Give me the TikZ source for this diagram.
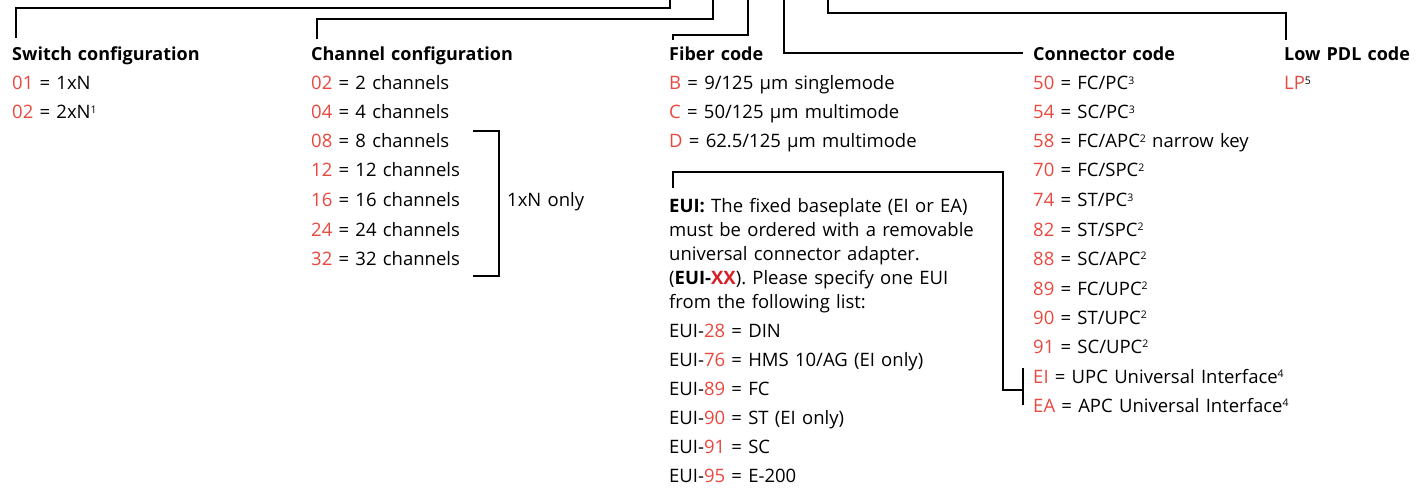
\documentclass[tikz,border=0pt]{standalone}
\usepackage{fontspec}
\setmainfont{Open Sans}[WordSpace=1.3]
\definecolor{codered}{RGB}{232,72,62}
\definecolor{darkred}{RGB}{214,32,38}
\newcommand\R[1]{\textcolor{codered}{#1}}
\newcommand\Sup[1]{\raisebox{5.5pt}{\fontsize{10.5}{10.5}\selectfont #1}}
\tikzset{
  item/.style={anchor=base west, inner sep=0pt, font=\fontsize{18.5}{20}\selectfont},
  title/.style={anchor=base west, inner sep=0pt, font=\fontsize{18}{20}\selectfont\bfseries},
  wire/.style={line width=1.6pt, line join=miter},
}
\begin{document}
\begin{tikzpicture}[x=1pt,y=-1pt]
\useasboundingbox (0,0) rectangle (1426,489);
% Switch configuration
\node[title] (sw) at (12,61) {Switch configuration};
\node[item] (s1) at (12,90) {\R{01} = 1xN};
\node[item] (s2) at (12,119) {\R{02} = 2xN\Sup{1}};
% Channel configuration
\node[title] (ch) at (311,61) {Channel configuration};
\node[item] (c1) at (311,90) {\R{02} = 2 channels};
\node[item] (c2) at (311,119) {\R{04} = 4 channels};
\node[item] (c3) at (311,148) {\R{08} = 8 channels};
\node[item] (c4) at (311,177) {\R{12} = 12 channels};
\node[item] (c5) at (311,207) {\R{16} = 16 channels};
\node[item] (c6) at (311,236) {\R{24} = 24 channels};
\node[item] (c7) at (311,265) {\R{32} = 32 channels};
\node[item] (only) at (507,207) {1xN only};
% Fiber code
\node[title] (fc) at (669,61) {Fiber code};
\node[item] (f1) at (669,90) {\R{B} = 9/125 µm singlemode};
\node[item] (f2) at (669,119) {\R{C} = 50/125 µm multimode};
\node[item] (f3) at (669,148) {\R{D} = 62.5/125 µm multimode};
% EUI
\node[item] (e1) at (669,212) {\textbf{EUI:} The fixed baseplate (EI or EA)};
\node[item] (e2) at (669,236) {must be ordered with a removable};
\node[item] (e3) at (669,260) {universal connector adapter.};
\node[item] (e4) at (669,284) {(\textbf{EUI-\textcolor{darkred}{XX}}). Please specify one EUI};
\node[item] (e5) at (669,308) {from the following list:};
\node[item] (u1) at (669,337) {EUI-\R{28} = DIN};
\node[item] (u2) at (669,366) {EUI-\R{76} = HMS 10/AG (EI only)};
\node[item] (u3) at (669,395) {EUI-\R{89} = FC};
\node[item] (u4) at (669,424) {EUI-\R{90} = ST (EI only)};
\node[item] (u5) at (669,453) {EUI-\R{91} = SC};
\node[item] (u6) at (669,482) {EUI-\R{95} = E-200};
% Connector code
\node[title] (cc) at (1033,61) {Connector code};
\node[item] (k1) at (1033,90) {\R{50} = FC/PC\Sup{3}};
\node[item] (k2) at (1033,119) {\R{54} = SC/PC\Sup{3}};
\node[item] (k3) at (1033,148) {\R{58} = FC/APC\Sup{2} narrow key};
\node[item] (k4) at (1033,177) {\R{70} = FC/SPC\Sup{2}};
\node[item] (k5) at (1033,207) {\R{74} = ST/PC\Sup{3}};
\node[item] (k6) at (1033,236) {\R{82} = ST/SPC\Sup{2}};
\node[item] (k7) at (1033,265) {\R{88} = SC/APC\Sup{2}};
\node[item] (k8) at (1033,295) {\R{89} = FC/UPC\Sup{2}};
\node[item] (k9) at (1033,324) {\R{90} = ST/UPC\Sup{2}};
\node[item] (k10) at (1033,353) {\R{91} = SC/UPC\Sup{2}};
\node[item] (k11) at (1033,383) {\R{EI} = UPC Universal Interface\Sup{4}};
\node[item] (k12) at (1033,412) {\R{EA} = APC Universal Interface\Sup{4}};
% Low PDL code
\node[title] (lp) at (1284,61) {Low PDL code};
\node[item] (l1) at (1284,90) {\R{LP}\Sup{5}};
% top ends of leader lines
\coordinate (t1) at (670,0);
\coordinate (t2) at (713,0);
\coordinate (t3) at (748,0);
\coordinate (t4) at (784,0);
\coordinate (t5) at (828,0);
% leader lines
\draw[wire] (16,38) |- (670,8) -- (t1);
\draw[wire] (317,39) |- (713,19) -- (t2);
\draw[wire] (673,40) |- (748,35) -- (t3);
\draw[wire] (t4) |- (1023,53);
\draw[wire] (t5) |- (1286,13) -- (1286,40);
% EUI leader
\coordinate (eb1) at (1023,368);
\coordinate (eb2) at (1023,405);
\draw[wire] (673,188) |- (1003,172) |- (1023,390);
\draw[wire] (eb1) -- (eb2);
% 1xN only bracket
\coordinate (bt) at (473,131);
\coordinate (bb) at (473,276);
\draw[wire] (bt) -| (499,276) -- (bb);
\end{tikzpicture}
\end{document}
